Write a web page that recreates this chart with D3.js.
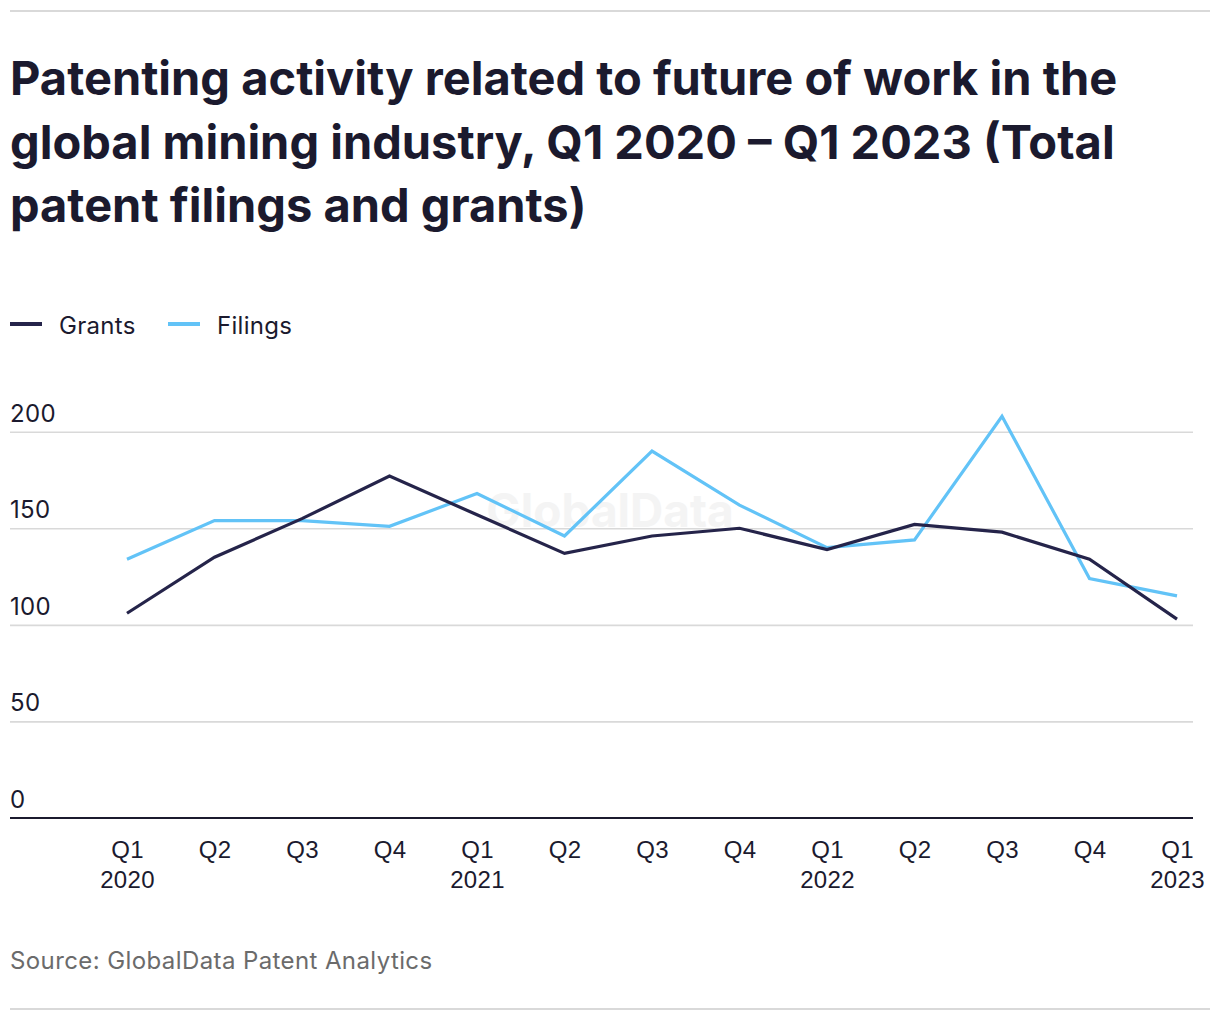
<!DOCTYPE html>
<html>
<head>
<meta charset="utf-8">
<script src="https://cdn.jsdelivr.net/npm/d3@7"></script>
<style>
  html, body { margin: 0; padding: 0; background: #fff; }
  svg { display: block; font-family: Inter, "Noto Sans", sans-serif; }
</style>
</head>
<body>
<svg id="chart" width="1220" height="1020"></svg>
<script>
const quarters = ["Q1", "Q2", "Q3", "Q4", "Q1", "Q2", "Q3", "Q4", "Q1", "Q2", "Q3", "Q4", "Q1"];
const years    = ["2020", "", "", "", "2021", "", "", "", "2022", "", "", "", "2023"];
const grants   = [106, 135, 155, 177, 157, 137, 146, 150, 139, 152, 148, 134, 103];
const filings  = [134, 154, 154, 151, 168, 146, 190, 162, 140, 144, 208, 124, 115];
const yTicks   = [0, 50, 100, 150, 200];
const seriesNames  = ["Grants", "Filings"];
const seriesColors = ["#25244a", "#62c3f7"];

const svg = d3.select("#chart");
const ink = "#1b1a2e";
const bodySize = 24;

// top and bottom rules
svg.append("line").attr("x1", 10).attr("x2", 1210).attr("y1", 11).attr("y2", 11)
  .attr("stroke", "#d9d9d9").attr("stroke-width", 2);
svg.append("line").attr("x1", 10).attr("x2", 1210).attr("y1", 1009).attr("y2", 1009)
  .attr("stroke", "#d9d9d9").attr("stroke-width", 2);

// title
const titleLines = [
  "Patenting activity related to future of work in the",
  "global mining industry, Q1 2020 – Q1 2023 (Total",
  "patent filings and grants)"
];
svg.append("text").attr("x", 10).attr("y", 95)
  .attr("fill", ink).attr("font-size", 47).attr("font-weight", 700)
  .selectAll("tspan").data(titleLines).join("tspan")
  .attr("x", 10).attr("dy", (d, i) => i === 0 ? 0 : 63.5).text(d => d);

// legend
const legend = svg.append("g");
const legendX = [10, 168];
seriesNames.forEach((name, i) => {
  legend.append("line").attr("x1", legendX[i]).attr("x2", legendX[i] + 32)
    .attr("y1", 324).attr("y2", 324).attr("stroke", seriesColors[i]).attr("stroke-width", 4);
  legend.append("text").attr("x", legendX[i] + 49).attr("y", 334)
    .attr("fill", ink).attr("font-size", bodySize).attr("letter-spacing", 0.3).text(name);
});

// scales
const x = d3.scalePoint().domain(d3.range(quarters.length)).range([127, 1177]);
const y = d3.scaleLinear().domain([0, 200]).range([818, 431.7]);

// watermark
svg.append("text").attr("x", 610).attr("y", 527).attr("text-anchor", "middle")
  .attr("font-size", 46).attr("font-weight", 700).attr("fill", "#f4f4f4")
  .text("GlobalData");

// gridlines
const grid = svg.append("g").attr("transform", "translate(1193,0)")
  .call(d3.axisLeft(y).tickValues(yTicks.filter(t => t > 0)).tickSize(1183).tickFormat(""));
grid.select(".domain").remove();
grid.selectAll("line").attr("stroke", "#d9d9d9").attr("stroke-width", 1.6);

// y labels
svg.append("g").selectAll("text").data(yTicks).join("text")
  .attr("x", 10).attr("y", d => y(d) - 10)
  .attr("fill", ink).attr("font-size", bodySize).attr("letter-spacing", 0.3).text(d => d);

// x axis
const xAxis = svg.append("g").attr("transform", "translate(0,818)")
  .call(d3.axisBottom(x).tickSize(0).tickFormat(""));
xAxis.select(".domain").remove();
svg.append("line").attr("x1", 10).attr("x2", 1193).attr("y1", 818).attr("y2", 818)
  .attr("stroke", ink).attr("stroke-width", 2);
xAxis.selectAll(".tick").each(function(d) {
  const t = d3.select(this).append("text").attr("fill", ink).attr("font-size", bodySize)
    .attr("letter-spacing", 0.3).attr("text-anchor", "middle");
  t.append("tspan").attr("x", 0).attr("y", 40).text(quarters[d]);
  if (years[d]) t.append("tspan").attr("x", 0).attr("y", 70).text(years[d]);
});

// lines (filings first, grants on top)
const lineGen = d3.line().x((d, i) => x(i)).y(d => y(d));
[[filings, 1], [grants, 0]].forEach(([vals, i]) => {
  svg.append("path").datum(vals).attr("d", lineGen)
    .attr("fill", "none").attr("stroke", seriesColors[i]).attr("stroke-width", 3.2)
    .attr("stroke-linejoin", "miter");
});

// source
svg.append("text").attr("x", 10).attr("y", 969).attr("fill", "#6b6b6b")
  .attr("font-size", bodySize).attr("letter-spacing", 0.4).text("Source: GlobalData Patent Analytics");
</script>
</body>
</html>
